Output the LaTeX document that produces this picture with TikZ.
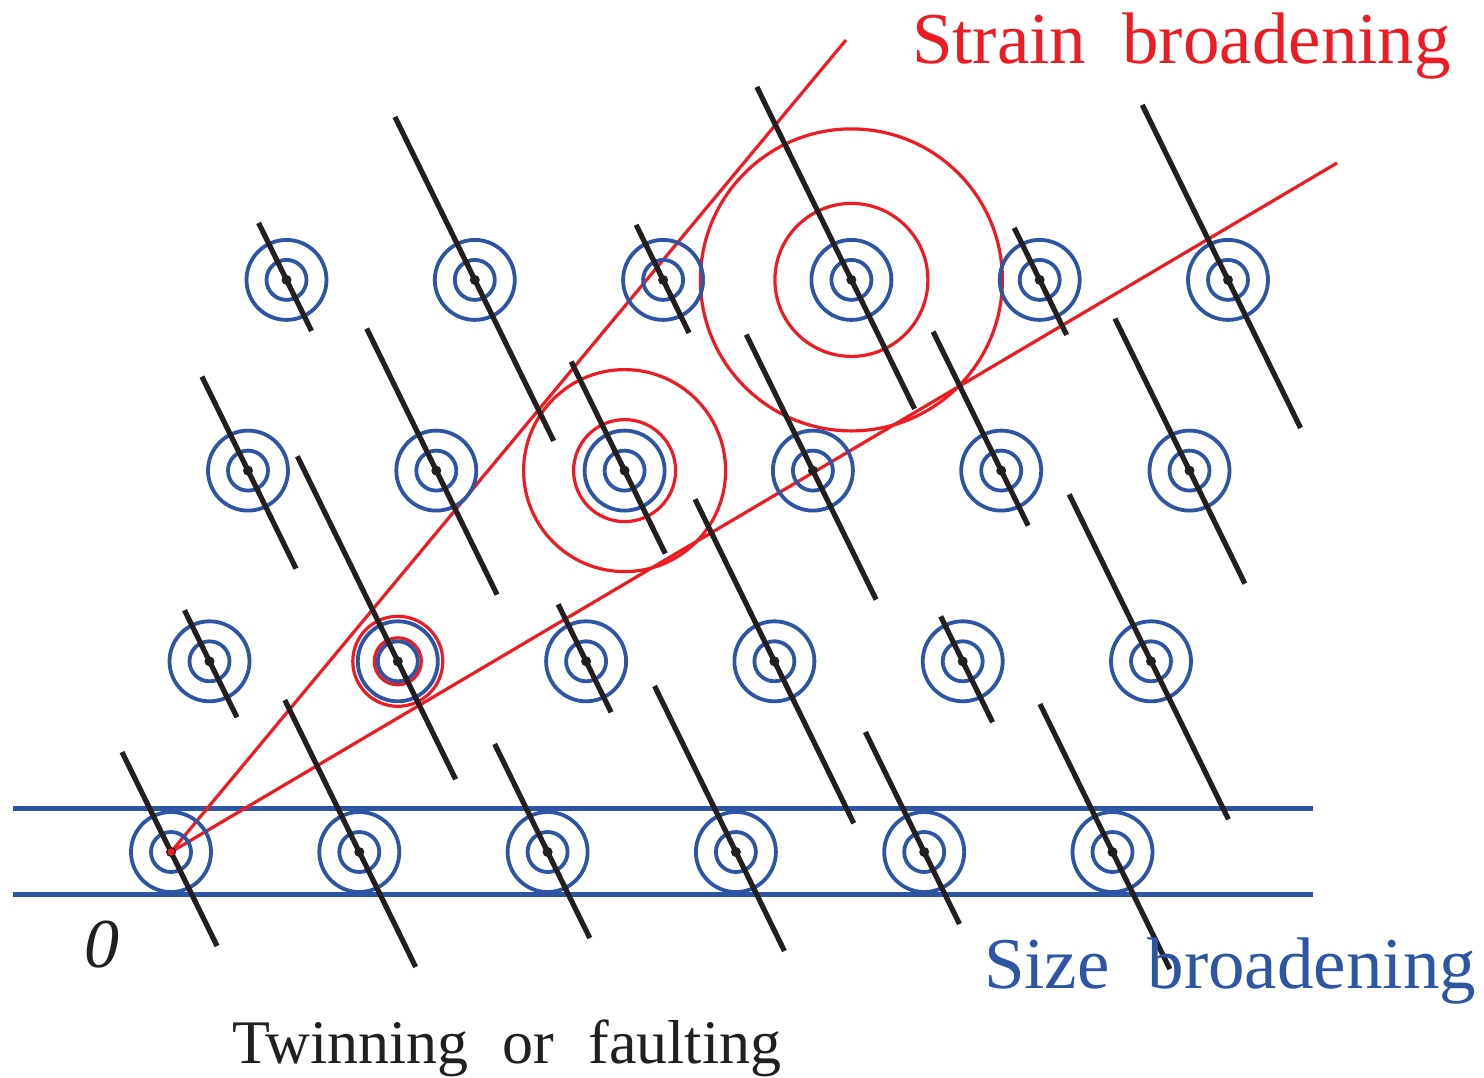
\documentclass[tikz,border=0pt]{standalone}
\usepackage{fontspec}
\setmainfont{Liberation Serif}
\usetikzlibrary{calc}
\definecolor{myred}{RGB}{237,28,36}
\definecolor{myblue}{RGB}{46,84,164}
\definecolor{myblack}{RGB}{35,31,32}
\tikzset{
  bluering/.style={draw=myblue, line width=1.9pt},
  redring/.style={draw=myred, line width=1.6pt},
  redray/.style={draw=myred, line width=1.6pt},
  sizeline/.style={draw=myblue, line width=2.5pt},
  streak/.style={draw=myblack, line width=2.6pt},
  spot/.style={fill=myblack},
  lbl/.style={anchor=base west, inner sep=0pt, outer sep=0pt},
}
\begin{document}
\begin{tikzpicture}[x=0.5pt,y=-0.5pt]
\useasboundingbox (0,0) rectangle (1484,1077);
% lattice points
\foreach \i in {0,...,5}{
  \foreach \j in {0,...,3}{
    \coordinate (p\i\j) at ({171+188.3*\i+38.5*\j},{852-190.7*\j});
  }
}
% size broadening band
\coordinate (hl1) at (13,808);
\coordinate (hr1) at (1313,808);
\coordinate (hl2) at (13,894);
\coordinate (hr2) at (1313,894);
\draw[sizeline] (hl1) -- (hr1);
\draw[sizeline] (hl2) -- (hr2);
% strain rays
\coordinate (r1) at (846,40);
\coordinate (r2) at (1337,163);
\draw[redray] (p00) -- (r1);
\draw[redray] (p00) -- (r2);
% red strain rings
\draw[redring] (p11) circle[radius=22.5pt];
\draw[redring] (p11) circle[radius=11.75pt];
\draw[redring] (p22) circle[radius=50.5pt];
\draw[redring] (p22) circle[radius=25.5pt];
\draw[redring] (p33) circle[radius=75.5pt];
\draw[redring] (p33) circle[radius=38.25pt];
% blue rings
\foreach \i in {0,...,5}{
  \foreach \j in {0,...,3}{
    \draw[bluering] (p\i\j) circle[radius=20pt];
    \draw[bluering] (p\i\j) circle[radius=10pt];
  }
}
% streaks (twinning / faulting)
\foreach \i/\j/\t/\b in {0/0/-100/94, 1/0/-152/115, 2/0/-108/86, 3/0/-166/99, 4/0/-120/72, 5/0/-148/117,
  0/1/-51/56, 1/1/-205/118, 2/1/-57/51, 3/1/-162/162, 4/1/-45/61, 5/1/-167/158,
  0/2/-94/98, 1/2/-142/124, 2/2/-109/83, 3/2/-136/129, 4/2/-139/55, 5/2/-152/113,
  0/3/-57/51, 1/3/-163/161, 2/3/-55/53, 3/3/-193/129, 4/3/-52/55, 5/3/-175/148}{
  \coordinate (st\i\j) at ($(p\i\j)+(0.49*\t,\t)$);
  \coordinate (sb\i\j) at ($(p\i\j)+(0.49*\b,\b)$);
  \draw[streak] (st\i\j) -- (sb\i\j);
}
% centre spots
\foreach \i in {0,...,5}{
  \foreach \j in {0,...,3}{
    \fill[spot] (p\i\j) circle[radius=2.5pt];
  }
}
\fill[myred] (p00) circle[radius=1.8pt];
% labels
\node[lbl, text=myred, font=\fontsize{36.5}{40}\selectfont] (strain) at (912,63) {Strain\hspace{18pt}broadening};
\node[lbl, text=myblue, font=\fontsize{36.5}{40}\selectfont] (size) at (984,988) {Size\hspace{19pt}broadening};
\node[lbl, text=myblack, font=\fontsize{31}{36}\selectfont] (twin) at (232,1063) {Twinning\hspace{17pt}or\hspace{17pt}faulting};
\node[lbl, text=myblack, font=\fontsize{35}{40}\selectfont\itshape] (origin) at (84,967) {0};
\end{tikzpicture}
\end{document}
